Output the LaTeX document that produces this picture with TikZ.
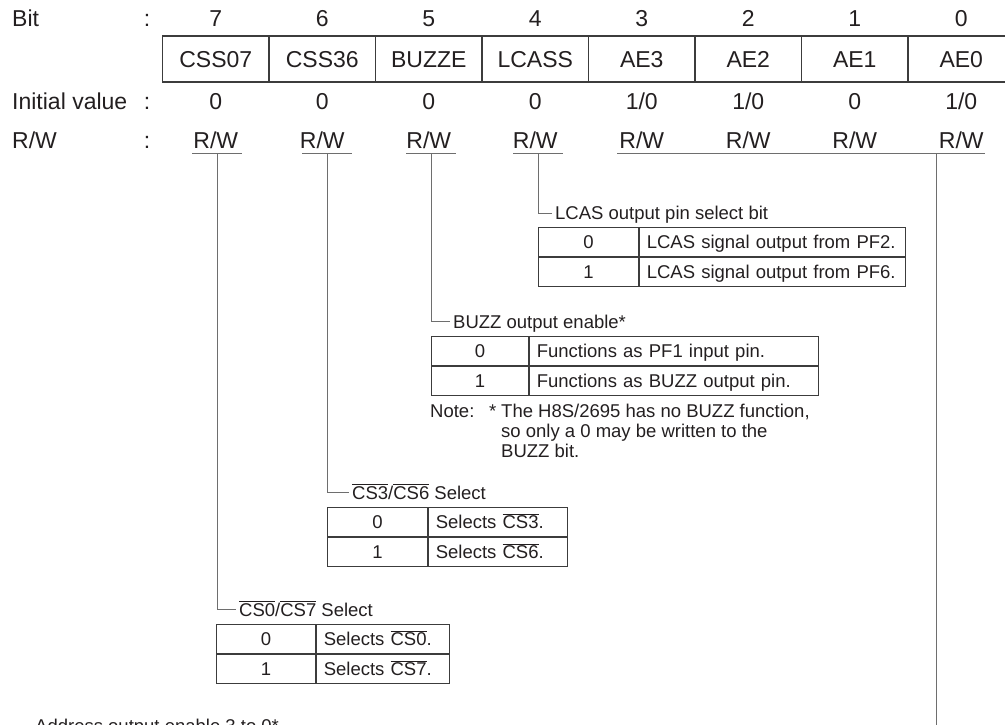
\documentclass[tikz,border=0pt]{standalone}
\usepackage{fontspec}
\setmainfont{Liberation Sans}

\definecolor{regink}{HTML}{231F20}
\definecolor{regline}{HTML}{3C3C3C}
\definecolor{leadgray}{HTML}{6E6E6E}

\newcommand{\ovl}[1]{$\overline{\mbox{#1}}$}
\newcommand{\regfont}{\fontsize{23}{27}\selectfont}
\newcommand{\descfont}{\fontsize{18.5}{20}\selectfont}

\tikzset{
  regcell/.style={draw=regline,line width=1.2pt,minimum width=106.5pt,minimum height=46pt,inner sep=0pt,font=\regfont,text height=16.5pt,text depth=0pt},
  regtext/.style={font=\regfont,inner sep=0pt,anchor=base},
  leader/.style={draw=leadgray,line width=1pt},
  desclabel/.style={font=\descfont,anchor=west,inner xsep=3pt,inner ysep=0pt,text height=13.5pt,text depth=0.5pt},
  valcell/.style={draw=regline,line width=1.2pt,minimum width=#1,minimum height=29pt,inner sep=0pt,anchor=north west,font=\descfont,text height=13.5pt,text depth=0.5pt},
  desccell/.style={draw=regline,line width=1.2pt,text width=#1,align=left,inner xsep=7pt,inner ysep=0pt,minimum height=29pt,anchor=north west,font=\descfont,text height=13.5pt,text depth=0.5pt},
  notetext/.style={font=\descfont,inner sep=0pt,anchor=base west},
}

\begin{document}
\begin{tikzpicture}[x=1pt,y=-1pt,text=regink]
\clip (0,0) rectangle (1005,724);
% row captions
\node[regtext,anchor=base west] (capbit) at (12,26) {Bit};
\node[regtext,anchor=base west] (capinit) at (12,109) {Initial value};
\node[regtext,anchor=base west] (caprw) at (12,148) {R/W};
\foreach \row/\y in {bit/26,init/109,rw/148}{%
  \node[regtext] (colon\row) at (147,\y) {:};
}
% register
\foreach \name [count=\i from 0] in {CSS07,CSS36,BUZZE,LCASS,AE3,AE2,AE1,AE0}{%
  \pgfmathtruncatemacro{\bitno}{7-\i}
  \node[regcell] (reg\i) at ({215.75+106.5*\i},59) {\name};
  \node[regtext] (bit\i) at ({215.75+106.5*\i},26) {\bitno};
  \node[regtext] (rw\i) at ({215.75+106.5*\i},148) {R/W};
}
\foreach \val [count=\i from 0] in {0,0,0,0,{1/0},{1/0},0,{1/0}}{%
  \node[regtext] (init\i) at ({215.75+106.5*\i},109) {\val};
}
% underlines and taps
\coordinate (tap7) at (217,153);
\coordinate (tap6) at (327,153);
\coordinate (tap5) at (431,153);
\coordinate (tap4) at (538,153);
\coordinate (tapae) at (936,153);
\foreach \t in {tap7,tap6,tap5,tap4}{%
  \draw[leader] ([xshift=-25pt]\t) -- ([xshift=25pt]\t);
}
\coordinate (aeleft) at (617,153);
\coordinate (aeright) at (985,153);
\coordinate (aedown) at (936,730);
\draw[leader] (aeleft) -- (aeright);
\draw[leader] (tapae) -- (aedown);
% bit 4
\node[desclabel] (lcaslbl) at (552,213) {LCAS output pin select bit};
\draw[leader] (tap4) |- (lcaslbl.west);
\node[valcell=100pt] (lcasv0) at (538,227) {0};
\node[desccell=252pt] (lcasd0) at (lcasv0.north east) {LCAS signal output from PF2.};
\node[valcell=100pt] (lcasv1) at (lcasv0.south west) {1};
\node[desccell=252pt] (lcasd1) at (lcasv1.north east) {LCAS signal output from PF6.};
% bit 5
\node[desclabel] (buzzlbl) at (450,321.5) {BUZZ output enable*};
\draw[leader] (tap5) |- (buzzlbl.west);
\node[valcell=97pt] (buzzv0) at (431,336) {0};
\node[desccell=275pt] (buzzd0) at (buzzv0.north east) {Functions as PF1 input pin.};
\node[valcell=97pt] (buzzv1) at (buzzv0.south west) {1};
\node[desccell=275pt] (buzzd1) at (buzzv1.north east) {Functions as BUZZ output pin.};
\node[notetext] (notehead) at (430,417) {Note:};
\node[notetext] (notestar) at (489,417) {*};
\node[notetext] (notea) at (501,417) {The H8S/2695 has no BUZZ function,};
\node[notetext] (noteb) at (501,437) {so only a 0 may be written to the};
\node[notetext] (notec) at (501,457) {BUZZ bit.};
% bit 6
\node[desclabel] (cs36lbl) at (349,492.5) {\ovl{CS3}/\ovl{CS6} Select};
\draw[leader] (tap6) |- (cs36lbl.west);
\node[valcell=100pt] (cs36v0) at (327,507) {0};
\node[desccell=125pt] (cs36d0) at (cs36v0.north east) {Selects \ovl{CS3}.};
\node[valcell=100pt] (cs36v1) at (cs36v0.south west) {1};
\node[desccell=125pt] (cs36d1) at (cs36v1.north east) {Selects \ovl{CS6}.};
% bit 7
\node[desclabel] (cs07lbl) at (236,609.5) {\ovl{CS0}/\ovl{CS7} Select};
\draw[leader] (tap7) |- (cs07lbl.west);
\node[valcell=99pt] (cs07v0) at (216,624) {0};
\node[desccell=119pt] (cs07d0) at (cs07v0.north east) {Selects \ovl{CS0}.};
\node[valcell=99pt] (cs07v1) at (cs07v0.south west) {1};
\node[desccell=119pt] (cs07d1) at (cs07v1.north east) {Selects \ovl{CS7}.};
% bits 3 to 0
\node[notetext] (aelbl) at (35,732) {Address output enable 3 to 0*};
\end{tikzpicture}
\end{document}
